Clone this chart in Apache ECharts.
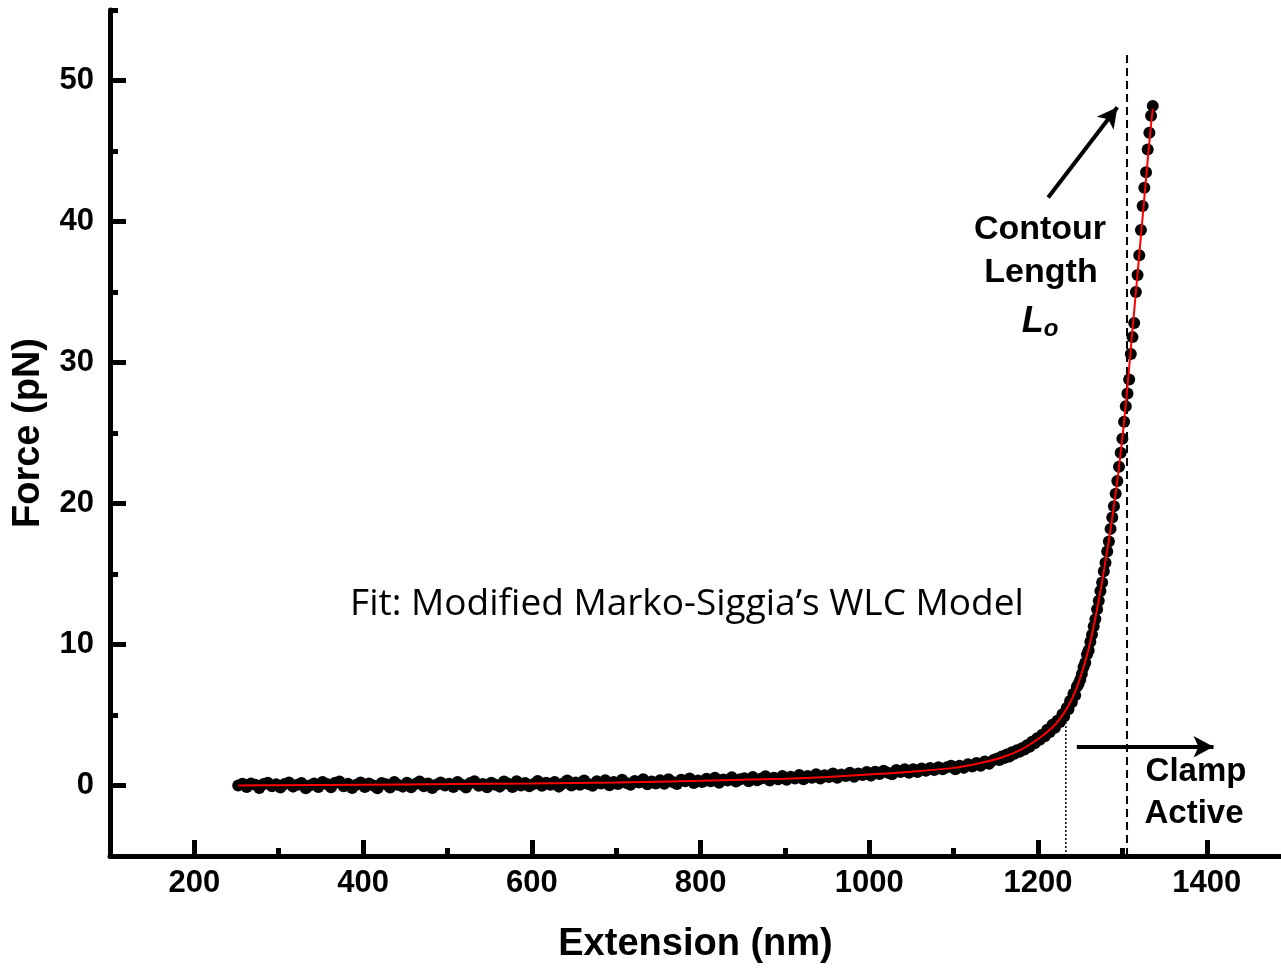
<!DOCTYPE html>
<html>
<head>
<meta charset="utf-8">
<script src="https://cdn.jsdelivr.net/npm/echarts@6/dist/echarts.min.js"></script>
<style>
  html, body { margin: 0; padding: 0; background: #fff; }
  #main { width: 1281px; height: 969px; }
</style>
</head>
<body>
<div id="main"></div>
<script>
// measured points, low force part (nm / pN)
const flatExt = [
  252, 257, 262, 267, 272, 277, 282, 287, 292, 297,
  302, 307, 312, 317, 322, 327, 332, 337, 342, 347,
  352, 357, 362, 367, 372, 377, 382, 387, 392, 397,
  402, 407, 412, 417, 422, 427, 432, 437, 442, 447,
  452, 457, 462, 467, 472, 477, 482, 487, 492, 497,
  502, 507, 512, 517, 522, 527, 532, 537, 542, 547,
  552, 557, 562, 567, 572, 577, 582, 587, 592, 597,
  602, 607, 612, 617, 622, 627, 632, 637, 642, 647,
  652, 657, 662, 667, 672, 677, 682, 687, 692, 697,
  702, 707, 712, 717, 722, 727, 732, 737, 742, 747,
  752, 757, 762, 767, 772, 777, 782, 787, 792, 797,
  802, 807, 812, 817, 822, 827, 832, 837, 842, 847,
  852, 857, 862, 867, 872, 877, 882, 887, 892, 897,
  902, 907, 912, 917, 922, 927, 932, 937, 942, 947,
  952, 957, 962, 967, 972, 977, 982, 987, 992, 997,
  1002, 1007, 1012, 1017, 1022, 1027, 1032, 1037, 1042, 1047,
  1052, 1057, 1062, 1067, 1072, 1077, 1082, 1087, 1092, 1097,
  1102, 1107, 1112, 1117, 1122, 1127, 1132, 1137, 1142, 1147
];
const flatForce = [
  0.0, 0.12, -0.1, 0.15, 0.05, -0.18, 0.1, 0.2, -0.05, 0.08,
  -0.15, 0.1, 0.22, -0.08, 0.05, 0.18, -0.2, 0.0, 0.14, -0.1,
  0.25, 0.1, -0.12, 0.2, 0.28, -0.05, 0.12, -0.18, 0.06, 0.22,
  -0.1, 0.15, 0.0, -0.2, 0.18, 0.08, -0.14, 0.25, 0.04, -0.08,
  0.2, -0.12, 0.1, 0.28, -0.05, 0.15, -0.18, 0.06, 0.22, 0.0,
  0.12, -0.1, 0.25, 0.05, -0.15, 0.18, 0.3, -0.02, 0.1, -0.12,
  0.2, 0.05, -0.08, 0.28, 0.12, -0.1, 0.3, 0.0, 0.18, -0.05,
  0.1, 0.32, -0.02, 0.2, 0.05, 0.25, -0.08, 0.15, 0.35, 0.0,
  0.22, 0.05, 0.35, 0.1, -0.02, 0.3, 0.15, 0.38, 0.02, 0.25,
  0.1, 0.4, 0.18, 0.05, 0.32, 0.22, 0.45, 0.08, 0.28, 0.15,
  0.38, 0.12, 0.45, 0.25, 0.1, 0.4, 0.3, 0.5, 0.18, 0.35,
  0.25, 0.48, 0.3, 0.55, 0.2, 0.42, 0.35, 0.58, 0.28, 0.45,
  0.52, 0.3, 0.6, 0.38, 0.5, 0.65, 0.35, 0.55, 0.45, 0.68,
  0.4, 0.62, 0.5, 0.75, 0.45, 0.68, 0.55, 0.8, 0.5, 0.72,
  0.6, 0.85, 0.55, 0.78, 0.68, 0.9, 0.62, 0.85, 0.75, 0.95,
  0.7, 0.98, 0.82, 1.05, 0.9, 0.8, 1.1, 0.95, 1.15, 0.9,
  1.15, 0.95, 1.2, 1.05, 1.25, 1.1, 1.3, 1.15, 1.3, 1.4,
  1.15, 1.4, 1.25, 1.5, 1.35, 1.6, 1.4, 1.7, 1.55, 1.8
];
// measured points, rising part
const riseExt = [
  1151, 1154, 1157, 1160, 1163, 1166, 1169, 1172, 1175, 1178,
  1181, 1184, 1187, 1190, 1193, 1196, 1199, 1202, 1205, 1208,
  1211, 1214, 1217, 1220, 1223, 1226, 1229, 1231, 1234, 1236,
  1238, 1240, 1242, 1244, 1246, 1248, 1250, 1252, 1254, 1256,
  1258, 1260, 1262, 1264, 1266, 1268, 1270, 1272, 1274, 1276,
  1278, 1280, 1282, 1284, 1286, 1288, 1290, 1292, 1294, 1296,
  1298, 1300, 1302, 1304, 1306, 1308, 1310, 1312, 1314, 1316,
  1318, 1320, 1322, 1324, 1326, 1328, 1330, 1332, 1334, 1336
];
const riseForce = [
  1.9, 1.8, 2.05, 1.95, 2.2, 2.05, 2.35, 2.25, 2.5, 2.4,
  2.65, 2.55, 2.85, 2.75, 3.1, 3.0, 3.35, 3.25, 3.6, 3.5,
  3.95, 3.8, 4.3, 4.1, 4.6, 4.5, 5.05, 4.9, 5.5, 5.4,
  6.0, 5.9, 6.5, 6.4, 7.0, 7.2, 7.5, 7.9, 8.4, 8.7,
  9.3, 9.6, 10.2, 10.7, 11.3, 11.8, 12.5, 13.1, 13.8, 14.4,
  15.2, 15.8, 16.6, 17.3, 18.2, 19.0, 19.8, 20.7, 21.6, 22.6,
  23.6, 24.6, 25.8, 26.9, 27.8, 28.8, 30.6, 31.8, 32.8, 35.0,
  36.2, 37.6, 39.4, 41.1, 42.4, 43.5, 45.1, 46.3, 47.5, 48.2
];
// WLC fit curve
const fitExt = [252, 300, 400, 500, 600, 700, 800, 900, 950, 1000, 1050, 1100, 1130, 1155,
  1180, 1200, 1215, 1225, 1235, 1245, 1255, 1262, 1270, 1278, 1285, 1292, 1298, 1304,
  1310, 1316, 1322, 1328, 1333, 1336];
const fitForce = [0.0, 0.02, 0.06, 0.1, 0.15, 0.22, 0.33, 0.48, 0.6, 0.78, 0.98, 1.25, 1.58, 1.95,
  2.55, 3.3, 4.0, 4.65, 5.55, 6.8, 8.6, 10.2, 12.5, 15.2, 17.8, 20.7, 23.6, 27.0,
  31.0, 35.0, 39.0, 43.0, 46.3, 48.0];

// annotation positions in data units
const contourLength = 1305.5;
const contourTop = 52;
const clampStart = 1233;
const clampTop = 4.8;
const contourArrow = [[1212, 41.7], [1294, 48.1]];
const clampArrow = [[1246, 2.75], [1408, 2.75]];

const xMajor = [200, 400, 600, 800, 1000, 1200, 1400];
const xMinor = [300, 500, 700, 900, 1100, 1300];
const yMajor = [0, 10, 20, 30, 40, 50];
const yMinor = [5, 15, 25, 35, 45, 55];

const points = flatExt.map((x, i) => [x, flatForce[i]])
  .concat(riseExt.map((x, i) => [x, riseForce[i]]));
const fit = fitExt.map((x, i) => [x, fitForce[i]]);

const chart = echarts.init(document.getElementById('main'));

const labelFont = {
  fontFamily: 'Liberation Sans',
  fontWeight: 'bold',
  fontSize: 31,
  color: '#000',
  formatter: v => String(v)
};
const axisLine = { show: true, onZero: false, lineStyle: { color: '#000', width: 5 } };
const nameFont = { fontFamily: 'Liberation Sans', fontWeight: 'bold', fontSize: 38, color: '#000' };

chart.setOption({
  animation: false,
  backgroundColor: '#fff',
  grid: {
    left: 110, right: 0, top: 10, bottom: 113,
    containLabel: false,
    outerBoundsMode: 'none'
  },
  xAxis: [{
    type: 'value',
    min: 100, max: 1488, interval: 100,
    axisLine: axisLine,
    splitLine: { show: false },
    axisTick: {
      inside: true, length: 16, customValues: xMajor,
      lineStyle: { color: '#000', width: 5 }
    },
    axisLabel: Object.assign({ margin: 12, customValues: xMajor }, labelFont),
    name: 'Extension (nm)',
    nameLocation: 'middle',
    nameGap: 70,
    nameTextStyle: nameFont
  }, {
    type: 'value',
    min: 100, max: 1488, interval: 100,
    position: 'bottom',
    axisLine: { show: false, onZero: false },
    splitLine: { show: false },
    axisTick: {
      inside: true, length: 8, customValues: xMinor,
      lineStyle: { color: '#000', width: 5 }
    },
    axisLabel: { show: false }
  }],
  yAxis: [{
    type: 'value',
    min: -5, max: 55, interval: 5,
    axisLine: axisLine,
    splitLine: { show: false },
    axisTick: {
      inside: true, length: 16, customValues: yMajor,
      lineStyle: { color: '#000', width: 5 }
    },
    axisLabel: Object.assign({ margin: 16, customValues: yMajor }, labelFont),
    name: 'Force (pN)',
    nameLocation: 'middle',
    nameGap: 62,
    nameTextStyle: nameFont
  }, {
    type: 'value',
    min: -5, max: 55, interval: 5,
    position: 'left',
    axisLine: { show: false, onZero: false },
    splitLine: { show: false },
    axisTick: {
      inside: true, length: 8, customValues: yMinor,
      lineStyle: { color: '#000', width: 5 }
    },
    axisLabel: { show: false }
  }],
  series: [
    {
      type: 'scatter',
      data: points,
      symbol: 'circle',
      symbolSize: 12,
      itemStyle: { color: '#000', opacity: 1 },
      z: 2
    },
    {
      type: 'line',
      data: fit,
      smooth: 0.3,
      showSymbol: false,
      lineStyle: { color: '#ff0000', width: 2 },
      z: 3
    },
    {
      type: 'line',
      data: [[contourLength, -5], [contourLength, contourTop]],
      showSymbol: false,
      lineStyle: { color: '#000', width: 2, type: [8, 5] },
      z: 1
    },
    {
      type: 'line',
      data: [[clampStart, -5], [clampStart, clampTop]],
      showSymbol: false,
      lineStyle: { color: '#000', width: 1.5, type: [2, 2] },
      z: 1
    },
    {
      type: 'line',
      data: [],
      markLine: {
        silent: true,
        symbol: ['none', 'arrow'],
        symbolSize: [16, 20],
        label: { show: false },
        lineStyle: { color: '#000', width: 4, type: 'solid' },
        data: [
          [{ coord: contourArrow[0] }, { coord: contourArrow[1] }],
          [{ coord: clampArrow[0] }, { coord: clampArrow[1] }]
        ]
      }
    }
  ],
  graphic: [
    {
      type: 'text',
      style: {
        x: 687, y: 604, text: 'Fit: Modified Marko-Siggia’s WLC Model',
        font: '37px "Open Sans"', fill: '#000',
        textAlign: 'center', textVerticalAlign: 'middle'
      }
    },
    {
      type: 'text',
      style: {
        x: 1040, y: 230, text: 'Contour',
        font: 'bold 34px "Liberation Sans"', fill: '#000',
        textAlign: 'center', textVerticalAlign: 'middle'
      }
    },
    {
      type: 'text',
      style: {
        x: 1041, y: 273, text: 'Length',
        font: 'bold 34px "Liberation Sans"', fill: '#000',
        textAlign: 'center', textVerticalAlign: 'middle'
      }
    },
    {
      type: 'text',
      style: {
        x: 1040, y: 322, text: '{l|L}{o|o}',
        textAlign: 'center', textVerticalAlign: 'middle',
        rich: {
          l: { font: 'italic bold 36px "Liberation Sans"', fill: '#000' },
          o: { font: 'italic bold 24px "Liberation Sans"', fill: '#000', padding: [14, 0, 0, 0] }
        }
      }
    },
    {
      type: 'text',
      style: {
        x: 1196, y: 772, text: 'Clamp',
        font: 'bold 33px "Liberation Sans"', fill: '#000',
        textAlign: 'center', textVerticalAlign: 'middle'
      }
    },
    {
      type: 'text',
      style: {
        x: 1194, y: 814, text: 'Active',
        font: 'bold 33px "Liberation Sans"', fill: '#000',
        textAlign: 'center', textVerticalAlign: 'middle'
      }
    }
  ]
});
</script>
</body>
</html>
